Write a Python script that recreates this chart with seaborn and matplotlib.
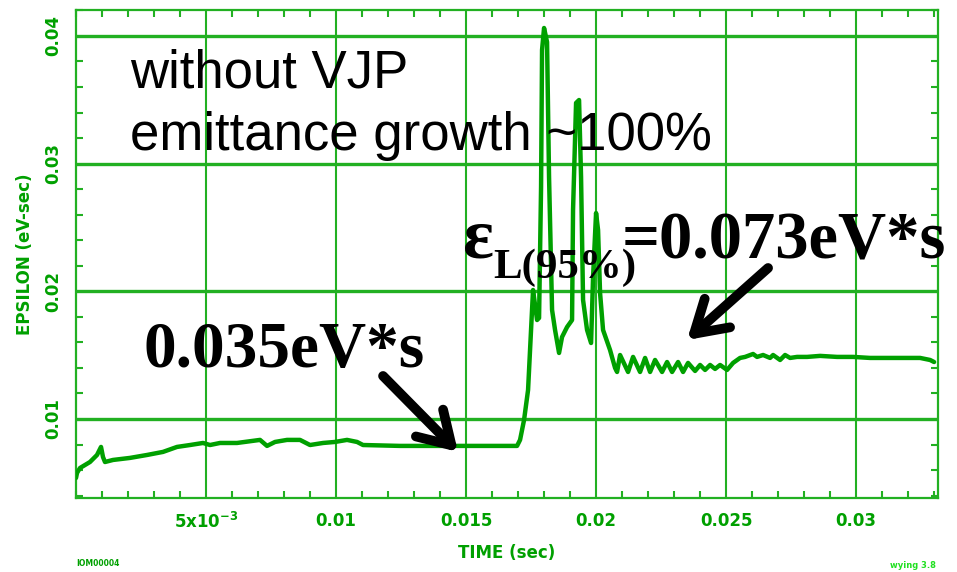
import matplotlib
matplotlib.use("Agg")
import matplotlib.pyplot as plt
import pandas as pd
import seaborn as sns
from matplotlib.ticker import MultipleLocator, FixedLocator, FixedFormatter

# Longitudinal emittance (95%) vs. time through the ramp, no VJP
time_s = [
    0.0, 0.0000385, 0.000154, 0.000538, 0.000808, 0.000962, 0.001038, 0.001115,
    0.001423, 0.002077, 0.002731, 0.003346, 0.003885, 0.004385, 0.004885, 0.005154,
    0.005538, 0.006192, 0.007077, 0.007346, 0.007654, 0.008115, 0.008615, 0.009,
    0.0095, 0.00996, 0.010423, 0.010808, 0.011038, 0.012462, 0.014385, 0.016962,
    0.017077, 0.017231, 0.017385, 0.017538, 0.017577, 0.017731, 0.017808, 0.017885,
    0.017923, 0.018, 0.018115, 0.018192, 0.018308, 0.018423, 0.018577, 0.018692,
    0.018885, 0.019077, 0.019115, 0.019231, 0.019346, 0.019423, 0.0195, 0.019654,
    0.019808, 0.019885, 0.02, 0.020077, 0.020154, 0.020269, 0.020538, 0.020731,
    0.020808, 0.020923, 0.021231, 0.021423, 0.021692, 0.021885, 0.022077, 0.022269,
    0.022538, 0.022731, 0.022923, 0.023154, 0.023346, 0.023538, 0.023808, 0.024,
    0.024192, 0.024385, 0.024577, 0.024769, 0.025038, 0.025269, 0.025538, 0.025731,
    0.026038, 0.026192, 0.026423, 0.026692, 0.026808, 0.027077, 0.027269, 0.027462,
    0.027731, 0.028115, 0.028615, 0.029269, 0.029885, 0.030538, 0.031192, 0.031808,
    0.032462, 0.032846, 0.033,
]
epsilon = [
    0.00538, 0.00577, 0.00616, 0.00663, 0.00718, 0.00781, 0.00702, 0.00663,
    0.00679, 0.00695, 0.00718, 0.00742, 0.00781, 0.00796, 0.00812, 0.00796,
    0.00812, 0.00812, 0.00836, 0.00789, 0.0082, 0.00836, 0.00836, 0.00796,
    0.00812, 0.0082, 0.00836, 0.0082, 0.00796, 0.00789, 0.00789, 0.00789,
    0.00836, 0.00992, 0.01227, 0.01854, 0.0201, 0.01775, 0.01791, 0.02817,
    0.0389, 0.04062, 0.03952, 0.02895, 0.01854, 0.01697, 0.01517, 0.01642,
    0.0172, 0.01775, 0.02637, 0.03475, 0.03498, 0.02895, 0.01932, 0.01697,
    0.01595, 0.02112, 0.02613, 0.0248, 0.01987, 0.01697, 0.0154, 0.0140,
    0.01368, 0.01501, 0.01368, 0.01486, 0.01368, 0.01478, 0.01368, 0.01462,
    0.01368, 0.01446, 0.01368, 0.01446, 0.01368, 0.01439, 0.01376, 0.01423,
    0.01384, 0.01423, 0.01392, 0.01423, 0.01384, 0.01439, 0.01478, 0.01486,
    0.01509, 0.01486, 0.01501, 0.01478, 0.01501, 0.01462, 0.01501, 0.01478,
    0.01486, 0.01486, 0.01494, 0.01486, 0.01486, 0.01478, 0.01478, 0.01478,
    0.01478, 0.01462, 0.01446,
]

x_ticks = [0.005, 0.01, 0.015, 0.02, 0.025, 0.03]
x_tick_labels = [r"5x10$^{\mathbf{-3}}$", "0.01", "0.015", "0.02", "0.025", "0.03"]
y_ticks = [0.01, 0.02, 0.03, 0.04]
y_tick_labels = ["0.01", "0.02", "0.03", "0.04"]

GREEN = "#00a000"
GRID = "#22b022"

sns.set_style("white")
plt.rcParams["font.family"] = ["DejaVu Sans"]
plt.rcParams["mathtext.fontset"] = "dejavusans"

W, H = 957, 572
fig = plt.figure(figsize=(W / 100, H / 100), dpi=100)
ax = fig.add_axes([76 / W, 1 - 498 / H, 862 / W, 488 / H])

df = pd.DataFrame({"TIME": time_s, "EPSILON": epsilon})
sns.lineplot(data=df, x="TIME", y="EPSILON", ax=ax, color=GREEN, lw=3.2,
             sort=False, estimator=None, zorder=3)

ax.set_xlim(0, 0.03315)
ax.set_ylim(0.00381, 0.04203)

ax.xaxis.set_major_locator(FixedLocator(x_ticks))
ax.xaxis.set_major_formatter(FixedFormatter(x_tick_labels))
ax.yaxis.set_major_locator(FixedLocator(y_ticks))
ax.yaxis.set_major_formatter(FixedFormatter(y_tick_labels))
ax.xaxis.set_minor_locator(MultipleLocator(0.001))
ax.yaxis.set_minor_locator(MultipleLocator(0.002))

ax.grid(axis="x", which="major", color=GRID, lw=1.5, zorder=1)
ax.grid(axis="y", which="major", color=GRID, lw=2.4, zorder=1)
ax.set_axisbelow(True)

for sp in ax.spines.values():
    sp.set_color(GRID)
    sp.set_linewidth(1.6)

ax.tick_params(which="major", length=0, labelcolor=GREEN)
ax.tick_params(axis="x", which="major", pad=10, labelsize=12)
ax.tick_params(axis="y", which="major", pad=10, labelsize=12)
ax.tick_params(which="minor", direction="in", length=5, width=1.5, color=GRID,
               top=True, right=True, bottom=True, left=True)
for lab in ax.get_xticklabels():
    lab.set_fontweight("bold")
for lab in ax.get_yticklabels():
    lab.set_fontweight("bold")
    lab.set_rotation(90)
    lab.set_va("center")

ax.set_xlabel("TIME (sec)", fontsize=12, fontweight="bold", color=GREEN)
ax.set_ylabel("EPSILON (eV-sec)", fontsize=12, fontweight="bold", color=GREEN)
ax.xaxis.set_label_coords(0.5, -(553 - 498) / 488)
ax.xaxis.label.set_va("center")
ax.yaxis.set_label_coords(-(76 - 25) / 862, 0.5)
ax.yaxis.label.set_va("center")

# small plot-id stamps in the corners
fig.text(76 / W, 1 - 564 / H, "IOM00004", fontsize=5.5, fontweight="bold",
         color=GREEN, va="center", ha="left")
fig.text(890 / W, 1 - 565 / H, "wying 3.8", fontsize=6, fontweight="bold",
         color="#20e020", va="center", ha="left")

# annotations
sans = "Liberation Sans"
serif = "Liberation Serif"
fig.text(130 / W, 1 - 88 / H, "without VJP", fontsize=38, family=sans,
         color="black", va="baseline", ha="left")
fig.text(130 / W, 1 - 150 / H, "emittance growth ~100%", fontsize=38, family=sans,
         color="black", va="baseline", ha="left")
fig.text(143 / W, 1 - 367 / H, "0.035eV*s", fontsize=47, family=serif,
         fontweight="bold", color="black", va="baseline", ha="left")
fig.text(463 / W, 1 - 258 / H, "\u03b5", fontsize=52, family=serif,
         fontweight="bold", color="black", va="baseline", ha="left")
fig.text(493 / W, 1 - 278 / H, "L(95%)", fontsize=31, family=serif,
         fontweight="bold", color="black", va="baseline", ha="left")
fig.text(622 / W, 1 - 258 / H, "=0.073eV*s", fontsize=48, family=serif,
         fontweight="bold", color="black", va="baseline", ha="left")

arrow = dict(arrowstyle="->,head_length=0.9,head_width=0.55", lw=7, color="black",
             mutation_scale=25, shrinkA=0, shrinkB=0)
ax.annotate("", xy=(0.01469, 0.00742), xytext=(0.011808, 0.013367),
            xycoords="data", textcoords="data", arrowprops=arrow, zorder=5)
ax.annotate("", xy=(0.0235, 0.016186), xytext=(0.026615, 0.021824),
            xycoords="data", textcoords="data", arrowprops=arrow, zorder=5)

fig.savefig("out.png", dpi=100)
